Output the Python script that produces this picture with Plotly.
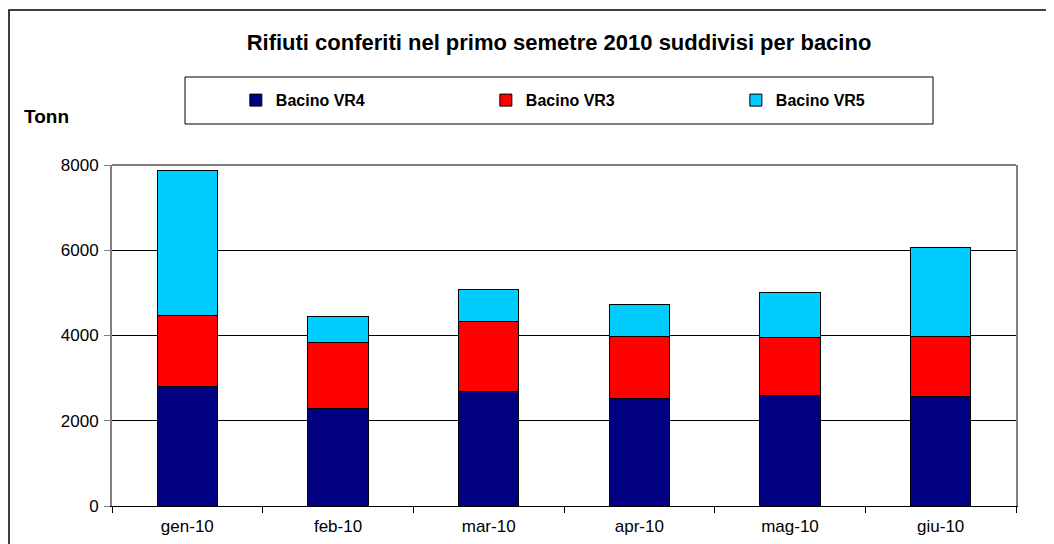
import plotly.graph_objects as go

# dati (tonnellate)
mesi = ["gen-10", "feb-10", "mar-10", "apr-10", "mag-10", "giu-10"]
vr4 = [2815, 2292, 2682, 2527, 2581, 2580]
vr3 = [1666, 1548, 1658, 1445, 1368, 1400]
vr5 = [3385, 610, 735, 744, 1064, 2095]

font = "Liberation Sans, Arial, sans-serif"

fig = go.Figure()
fig.add_trace(go.Bar(x=mesi, y=vr4, name="<b>Bacino VR4</b>", marker=dict(color="#000080", line=dict(color="black", width=1))))
fig.add_trace(go.Bar(x=mesi, y=vr3, name="<b>Bacino VR3</b>", marker=dict(color="#FF0000", line=dict(color="black", width=1))))
fig.add_trace(go.Bar(x=mesi, y=vr5, name="<b>Bacino VR5</b>", marker=dict(color="#00CCFF", line=dict(color="black", width=1))))

# la pagina ha 8px di margine: area grafico (coord. figura) x 104..1008, y 157..498
fig.update_layout(
    width=1046, height=536,
    margin=dict(l=104, r=38, t=157, b=38),
    barmode="stack", bargap=0.6,
    paper_bgcolor="white", plot_bgcolor="white",
    font=dict(family=font, size=17, color="black"),
    title=dict(text="<b>Rifiuti conferiti nel primo semetre 2010 suddivisi per bacino</b>",
               x=551 / 1046, xanchor="center", y=1 - 34 / 536, yanchor="middle",
               font=dict(size=22, family=font)),
    showlegend=True,
    legend=dict(orientation="h", x=0.137, xanchor="left", y=1.19, yanchor="middle",
                entrywidth=205, entrywidthmode="pixels", bgcolor="rgba(0,0,0,0)",
                borderwidth=0, font=dict(size=16, family=font), traceorder="normal",
                itemclick=False),
    xaxis=dict(type="category", tickson="boundaries", ticks="outside", ticklen=6,
               tickcolor="black", showline=True, linecolor="black", linewidth=1,
               showgrid=False, tickfont=dict(size=17), ticklabelstandoff=5,
               automargin=False),
    yaxis=dict(range=[0, 8000], dtick=2000, ticks="outside", ticklen=6, tickcolor="#808080",
               showline=True, linecolor="#808080", linewidth=2, mirror=True,
               showgrid=True, gridcolor="black", gridwidth=1, zeroline=False,
               tickfont=dict(size=17), ticklabelstandoff=2, automargin=False),
)

# riquadro legenda
fig.add_shape(type="rect", xref="paper", yref="paper",
              x0=(185 - 112) / 904, x1=(933 - 112) / 904,
              y0=(506 - 124) / 341, y1=(506 - 77) / 341,
              line=dict(color="black", width=1), layer="below")
# bordo superiore area grafico (grigio)
fig.add_shape(type="line", xref="paper", yref="paper", x0=0, x1=1, y0=1, y1=1,
              line=dict(color="#808080", width=2))
# cornice esterna (sinistra + alto)
fig.add_shape(type="path", xref="paper", yref="paper",
              path="M %f %f L %f %f L %f %f" % ((9 - 112) / 904, (506 - 560) / 341,
                                               (9 - 112) / 904, (506 - 10) / 341,
                                               (1060 - 112) / 904, (506 - 10) / 341),
              line=dict(color="black", width=1.5))
fig.add_annotation(text="<b>Tonn</b>", xref="paper", yref="paper",
                   x=(22 - 112) / 904, y=(506 - 117) / 341, xanchor="left", yanchor="middle",
                   showarrow=False, font=dict(family=font, size=19))

fig.write_html("out.html")
